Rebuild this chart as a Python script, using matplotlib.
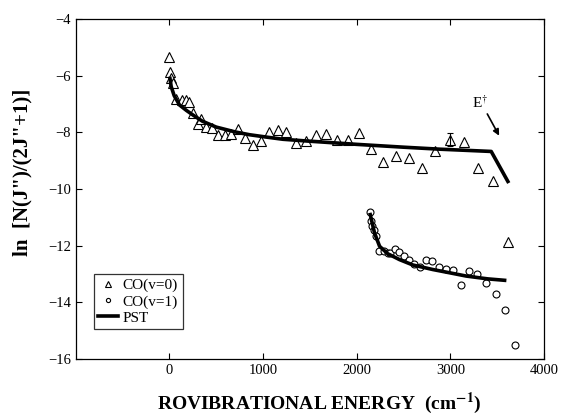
import matplotlib
matplotlib.use("Agg")
import matplotlib.pyplot as plt

plt.rcParams["font.family"] = ["Liberation Serif", "DejaVu Serif"]
plt.rcParams["mathtext.fontset"] = "stix"

# CO(v=0) measured points (energy cm-1, ln N/(2J+1))
v0_energy = [0, 7, 18, 35, 72, 131, 171, 206, 249, 303, 338, 392, 454, 516, 588,
             652, 730, 808, 890, 972, 1061, 1157, 1247, 1353, 1453, 1560, 1667,
             1788, 1906, 2023, 2147, 2279, 2415, 2553, 2696, 2831, 2991, 3141,
             3294, 3454, 3614]
v0_lnN = [-5.35, -5.88, -6.09, -6.26, -6.83, -6.85, -6.85, -6.93, -7.30, -7.70,
          -7.53, -7.81, -7.85, -8.08, -8.08, -8.05, -7.88, -8.20, -8.46, -8.30,
          -7.98, -7.91, -7.97, -8.38, -8.30, -8.08, -8.06, -8.26, -8.28, -8.03,
          -8.59, -9.05, -8.82, -8.90, -9.26, -8.67, -8.25, -8.35, -9.24, -9.73,
          -11.88]

# CO(v=1) measured points
v1_energy = [2144, 2147, 2161, 2179, 2208, 2233, 2290, 2333, 2358, 2404, 2447,
             2500, 2553, 2610, 2671, 2735, 2806, 2877, 2955, 3026, 3109, 3198,
             3287, 3382, 3483, 3585, 3686]
v1_lnN = [-10.82, -11.14, -11.29, -11.45, -11.64, -12.19, -12.19, -12.27, -12.25,
          -12.10, -12.23, -12.35, -12.49, -12.66, -12.74, -12.49, -12.55, -12.74,
          -12.81, -12.87, -13.37, -12.90, -13.01, -13.31, -13.69, -14.27, -15.51]

# PST curves
pst0_energy = [5, 18, 50, 107, 180, 249, 350, 499, 700, 855, 1050, 1211, 1460,
               2000, 2500, 2885, 3436, 3614]
pst0_lnN = [-6.09, -6.38, -6.70, -7.03, -7.22, -7.38, -7.60, -7.81, -7.98, -8.08,
            -8.17, -8.24, -8.30, -8.42, -8.52, -8.59, -8.67, -9.73]
pst1_energy = [2144, 2165, 2190, 2244, 2330, 2457, 2600, 2813, 3000, 3169, 3400, 3579]
pst1_lnN = [-10.90, -11.20, -11.55, -12.02, -12.28, -12.49, -12.68, -12.84,
            -12.96, -13.07, -13.17, -13.22]

fig = plt.figure(figsize=(5.62, 4.17), dpi=100)
ax = fig.add_axes([0.135, 0.139, 0.833, 0.815])

ax.plot(v0_energy, v0_lnN, linestyle="none", marker="^", markersize=6.5,
        markerfacecolor="white", markeredgecolor="black", markeredgewidth=0.8,
        label="CO(v=0)")
ax.plot(v1_energy, v1_lnN, linestyle="none", marker="o", markersize=5,
        markerfacecolor="white", markeredgecolor="black", markeredgewidth=0.8,
        label="CO(v=1)")
ax.plot(pst0_energy, pst0_lnN, color="black", linewidth=2.6, label="PST")
ax.plot(pst1_energy, pst1_lnN, color="black", linewidth=2.6)

# small error bar on one point
ax.errorbar([2991], [-8.25], yerr=0.23, fmt="none", ecolor="black",
            elinewidth=0.8, capsize=2.5, capthick=0.8)

ax.annotate("", xy=(3535, -8.2), xytext=(3380, -7.26),
            arrowprops=dict(arrowstyle="-|>", color="black", lw=1.2,
                            mutation_scale=9))
ax.text(3320, -6.95, r"E$^{\dagger}$", fontsize=11, ha="center", va="center")

ax.set_xlim(-1000, 4000)
ax.set_ylim(-16, -4)
ax.set_xticks([0, 1000, 2000, 3000, 4000])
ax.set_yticks([-16, -14, -12, -10, -8, -6, -4])
ax.tick_params(direction="in", top=True, right=True, length=4, width=0.8,
               labelsize=10.5)
for s in ax.spines.values():
    s.set_linewidth(0.9)

ax.set_xlabel(r"ROVIBRATIONAL ENERGY  (cm$^{\mathbf{-1}}$)", fontsize=14,
              fontweight="bold")
ax.xaxis.set_label_coords(0.52, -0.092)
ax.set_ylabel('ln  [N(J")/(2J"+1)]', fontsize=15, fontweight="bold")
ax.yaxis.set_label_coords(-0.092, 0.55)

leg = ax.legend(loc="lower left", bbox_to_anchor=(0.038, 0.088), frameon=True,
                fancybox=False, edgecolor="black", fontsize=11, handlelength=1.3,
                handletextpad=0.3, borderpad=0.3, labelspacing=0.15,
                markerscale=0.6, borderaxespad=0)
leg.get_frame().set_linewidth(0.9)

plt.savefig("out.png", dpi=100)
